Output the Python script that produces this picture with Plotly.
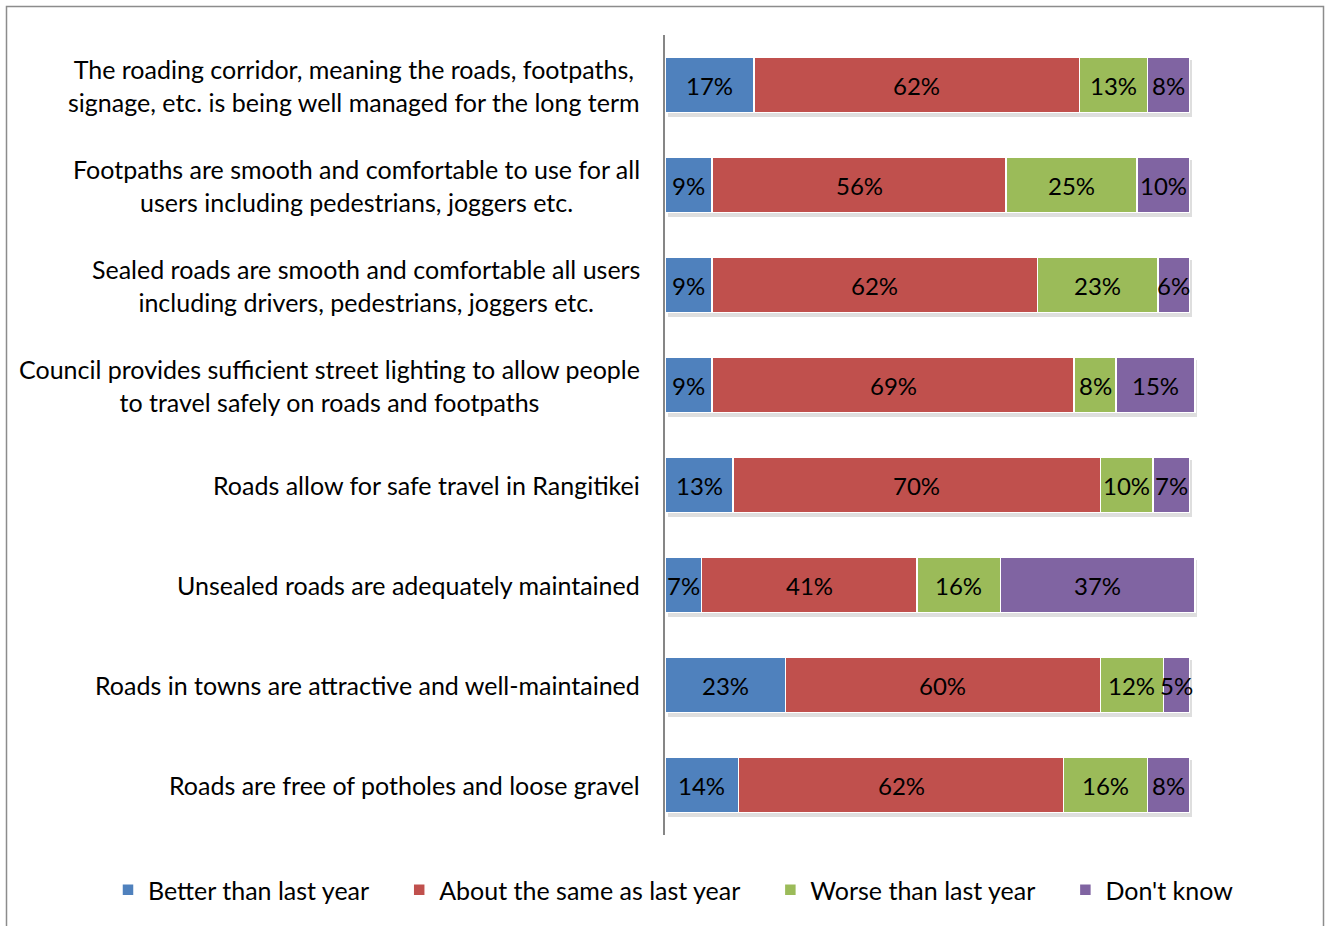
import plotly.graph_objects as go

# Survey statements (top to bottom)
statements = [
    "The roading corridor, meaning the roads, footpaths,<br>signage, etc. is being well managed for the long term",
    "Footpaths are smooth and comfortable to use for all<br>users including pedestrians, joggers etc.",
    "Sealed roads are smooth and comfortable all users<br>including drivers, pedestrians, joggers etc.",
    "Council provides sufficient street lighting to allow people<br>to travel safely on roads and footpaths",
    "Roads allow for safe travel in Rangitikei",
    "Unsealed roads are adequately maintained",
    "Roads in towns are attractive and well-maintained",
    "Roads are free of potholes and loose gravel",
]

series_names = [
    "Better than last year",
    "About the same as last year",
    "Worse than last year",
    "Don't know",
]

better = [17, 9, 9, 9, 13, 7, 23, 14]
same = [62, 56, 62, 69, 70, 41, 60, 62]
worse = [13, 25, 23, 8, 10, 16, 12, 16]
dont_know = [8, 10, 6, 15, 7, 37, 5, 8]

series_values = [better, same, worse, dont_know]
colors = ["#4F81BD", "#C0504D", "#9BBB59", "#8064A2"]

FONT = "Lato"
FS = 25
NBSP = "\u00a0"

fig = go.Figure()

# Soft drop shadow behind each stacked bar (drawn on slightly shifted base axes)
totals = [sum(v) for v in zip(*series_values)]
fig.add_trace(go.Bar(
    y=statements, x=totals, orientation="h", xaxis="x", yaxis="y",
    width=0.57, marker=dict(color="rgba(0,0,0,0.13)", line_width=0),
    showlegend=False, hoverinfo="skip",
))

# Stacked segments; trailing spaces widen the gap between legend entries
n_series = len(series_names)
for k, (name, vals, col) in enumerate(zip(series_names, series_values, colors)):
    pad = NBSP * 4 if k < n_series - 1 else ""
    fig.add_trace(go.Bar(
        y=statements, x=vals, orientation="h", xaxis="x2", yaxis="y2",
        name=name + pad, width=0.55,
        marker=dict(color=col, line=dict(color="white", width=1.5)),
    ))

annotations = []
# Percentage labels centred in each segment
for i, stmt in enumerate(statements):
    start = 0
    for vals in series_values:
        v = vals[i]
        annotations.append(dict(
            x=start + v / 2, y=stmt, xref="x2", yref="y2", text=f"{v}%",
            showarrow=False, font=dict(family=FONT, size=FS - 1, color="black"),
        ))
        start += v

# Category labels, right-aligned against the axis, lines centred
for stmt in statements:
    annotations.append(dict(
        x=0, y=stmt, xref="paper", yref="y2", text=stmt, xanchor="right",
        xshift=-23, align="center", showarrow=False,
        font=dict(family=FONT, size=FS, color="black"),
    ))

# Plot area: x 665..1200 px, y 35..835 px
L, R, T, B = 665, 127, 35, 91
W, H = 1327, 926
pw, ph = W - L - R, H - T - B

def px_x(p):
    return (p - L) / pw

def px_y(p):
    return (H - B - p) / ph

fig.update_layout(
    width=W, height=H,
    margin=dict(l=L, r=R, t=T, b=B, autoexpand=False),
    paper_bgcolor="white", plot_bgcolor="white",
    barmode="stack", bargap=0.45,
    font=dict(family=FONT, size=FS, color="black"),
    xaxis=dict(range=[-0.5, 101.5], visible=False, fixedrange=True),
    yaxis=dict(
        type="category", categoryorder="array", categoryarray=statements,
        range=[7.5 - 0.035, -0.5 - 0.035],
        showline=True, linecolor="#868686", linewidth=1.5,
        showticklabels=False, ticks="", showgrid=False, zeroline=False,
    ),
    xaxis2=dict(overlaying="x", range=[0, 102], visible=False),
    yaxis2=dict(
        overlaying="y", type="category", categoryorder="array",
        categoryarray=statements, range=[7.5, -0.5], visible=False,
    ),
    legend=dict(
        orientation="h", x=px_x(108), xanchor="left",
        y=px_y(890), yanchor="middle",
        font=dict(family=FONT, size=FS, color="black"),
        traceorder="normal", bgcolor="rgba(0,0,0,0)",
    ),
    annotations=annotations,
    shapes=[dict(
        type="rect", xref="paper", yref="paper",
        x0=px_x(6.5), x1=px_x(1323.5), y0=px_y(6.5), y1=px_y(960),
        line=dict(color="#8c8c8c", width=1.5), fillcolor="rgba(0,0,0,0)",
        layer="below",
    )],
)

fig.write_html("out.html")
